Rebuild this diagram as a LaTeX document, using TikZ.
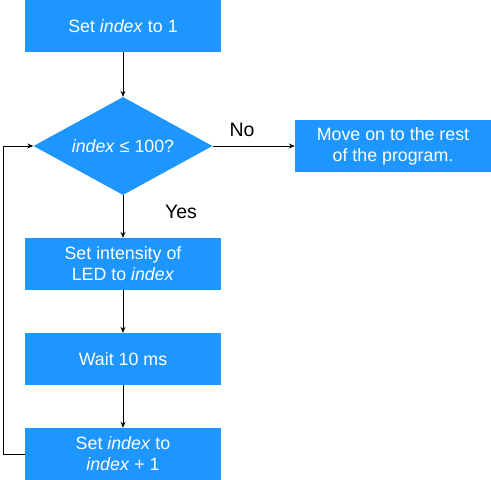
\documentclass[tikz,border=0pt]{standalone}
\usepackage{fontspec}
\setmainfont{Liberation Sans}
\usetikzlibrary{shapes.geometric,arrows.meta}
\definecolor{flowblue}{RGB}{30,150,255}
\begin{document}
\begin{tikzpicture}[x=1pt,y=1pt,
  procbox/.style={fill=flowblue,text=white,minimum width=196pt,minimum height=52pt,inner sep=0pt,align=center,font=\fontsize{17.8}{21}\selectfont},
  decbox/.style={diamond,aspect=1.83,fill=flowblue,text=white,minimum width=179pt,minimum height=98pt,inner sep=0pt,align=center,font=\fontsize{17.8}{21}\selectfont},
  conn/.style={draw=black,line width=0.9pt,-{Stealth[length=6pt,width=5pt]}},
  lbl/.style={font=\fontsize{19.5}{23}\selectfont,inner sep=0pt}]
\useasboundingbox (0,0) rectangle (491,-480);
\node[procbox] (b1) at (123,-26) {Set \textit{index} to 1};
\node[decbox] (d) at (123,-146) {\textit{index} ≤ 100?};
\node[procbox] (b5) at (393,-146) {Move on to the rest\\of the program.};
\node[procbox] (b2) at (123,-264) {Set intensity of\\LED to \textit{index}};
\node[procbox] (b3) at (123,-359) {Wait 10 ms};
\node[procbox] (b4) at (123,-454) {Set \textit{index} to\\\textit{index} + 1};
\coordinate (lb) at (3,-454);
\coordinate (lt) at (3,-146);
\node[lbl] (no) at (242,-130) {No};
\node[lbl] (yes) at (181,-212) {Yes};
\draw[conn] (b1) -- (d);
\draw[conn] (d) -- (b5);
\draw[conn] (d) -- (b2);
\draw[conn] (b2) -- (b3);
\draw[conn] (b3) -- (b4);
\draw[conn] (b4.west) -- (lb) -- (lt) -- (d.west);
\end{tikzpicture}
\end{document}
